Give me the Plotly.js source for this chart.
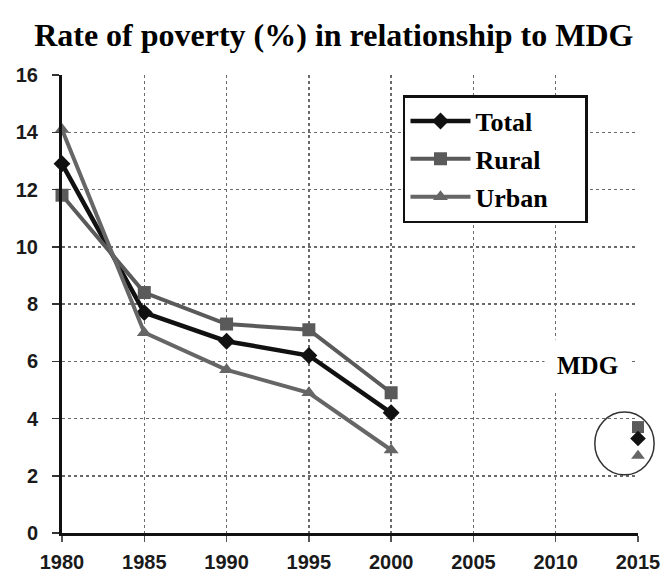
<!DOCTYPE html>
<html>
<head>
<meta charset="utf-8">
<script src="https://cdn.plot.ly/plotly-3.0.1.min.js"></script>
<style>html,body{margin:0;padding:0;background:#fff;}#chart{width:661px;height:581px;}</style>
</head>
<body>
<div id="chart"></div>
<script>
const years = [1980, 1985, 1990, 1995, 2000, 2015];
const totalVals = [12.9, 7.7, 6.7, 6.2, 4.2, 3.3];
const ruralVals = [11.8, 8.4, 7.3, 7.1, 4.9, 3.7];
const urbanVals = [14.1, 7.0, 5.7, 4.9, 2.9, 2.7];
const xTicks = [1980, 1985, 1990, 1995, 2000, 2005, 2010, 2015];
const yTicks = [0, 2, 4, 6, 8, 10, 12, 14, 16];
const seriesNames = ['Total', 'Rural', 'Urban'];

function splitSeries(vals) {
  // observed years (1980-2000) joined, MDG target (2015) separate
  return {
    obsX: years.slice(0, 5), obsY: vals.slice(0, 5),
    mdgX: years.slice(5), mdgY: vals.slice(5)
  };
}

const styles = [
  {color: '#111111', width: 4.5, symbol: 'diamond', size: 13},
  {color: '#5a5a5a', width: 4, symbol: 'square', size: 13},
  {color: '#666666', width: 4, symbol: 'triangle-up', size: 13}
];
const allVals = [totalVals, ruralVals, urbanVals];
const traces = [];
allVals.forEach((vals, i) => {
  const s = splitSeries(vals);
  const st = styles[i];
  traces.push({
    x: s.obsX, y: s.obsY, type: 'scatter', mode: 'lines+markers',
    name: '<b>' + seriesNames[i] + '</b>&nbsp;&nbsp;&nbsp;&nbsp;&nbsp;',
    legendgroup: 'g' + i, cliponaxis: false,
    line: {color: st.color, width: st.width},
    marker: {color: st.color, symbol: st.symbol, size: st.size}
  });
});
allVals.slice().reverse().forEach((vals, k) => {
  const i = 2 - k;
  const s = splitSeries(vals);
  const st = styles[i];
  traces.push({
    x: s.mdgX, y: s.mdgY, type: 'scatter', mode: 'markers',
    name: seriesNames[i], legendgroup: 'g' + i, showlegend: false, cliponaxis: false,
    marker: {color: st.color, symbol: st.symbol, size: st.size - 1}
  });
});

const tickFont = {family: 'Liberation Sans, Arial, sans-serif', size: 20, color: '#1a1a1a'};

const layout = {
  width: 661, height: 581,
  margin: {l: 62, r: 23, t: 75, b: 48},
  paper_bgcolor: '#ffffff', plot_bgcolor: '#ffffff',
  title: {
    text: '<b>Rate of poverty (%) in relationship to MDG</b>',
    font: {family: 'Liberation Serif, Times New Roman, serif', size: 32, color: '#000'},
    x: 0.505, xanchor: 'center', y: 0.94, yanchor: 'middle'
  },
  showlegend: true,
  legend: {
    x: 0.592, y: 0.956, xanchor: 'left', yanchor: 'top',
    bgcolor: '#ffffff', bordercolor: '#111', borderwidth: 2.5,
    font: {family: 'Liberation Serif, Times New Roman, serif', size: 26, color: '#000'},
    itemwidth: 60, tracegroupgap: 1, traceorder: 'grouped'
  },
  xaxis: {
    range: [1980, 2015], tickvals: xTicks, ticktext: xTicks.map(v => '<b>' + v + '</b>'),
    showgrid: true, gridcolor: '#6a6a6a', gridwidth: 1.5, griddash: 'dot',
    showline: true, linecolor: '#111', linewidth: 3,
    ticks: 'outside', ticklen: 6, tickcolor: '#555', tickwidth: 1.5,
    ticklabelstandoff: 3,
    tickfont: tickFont, zeroline: false, fixedrange: true
  },
  yaxis: {
    range: [0, 16], tickvals: yTicks, ticktext: yTicks.map(v => '<b>' + v + '</b>'),
    showgrid: true, gridcolor: '#6a6a6a', gridwidth: 1.5, griddash: 'dot',
    showline: true, linecolor: '#111', linewidth: 3,
    ticks: 'outside', ticklen: 7, tickcolor: '#333', tickwidth: 1.5,
    ticklabelstandoff: 10,
    tickfont: tickFont, zeroline: false, fixedrange: true
  },
  shapes: [
    {type: 'circle', xref: 'paper', yref: 'paper',
     x0: 0.925, x1: 1.028, y0: 0.127, y1: 0.264,
     line: {color: '#333', width: 1.5}}
  ],
  annotations: [
    {text: '<b>MDG</b>', xref: 'paper', yref: 'paper', x: 0.913, y: 0.365,
     xanchor: 'center', yanchor: 'middle', showarrow: false,
     bgcolor: '#ffffff', borderpad: 12,
     font: {family: 'Liberation Serif, Times New Roman, serif', size: 25, color: '#000'}}
  ]
};

Plotly.newPlot('chart', traces, layout, {displayModeBar: false, staticPlot: true});
</script>
</body>
</html>
